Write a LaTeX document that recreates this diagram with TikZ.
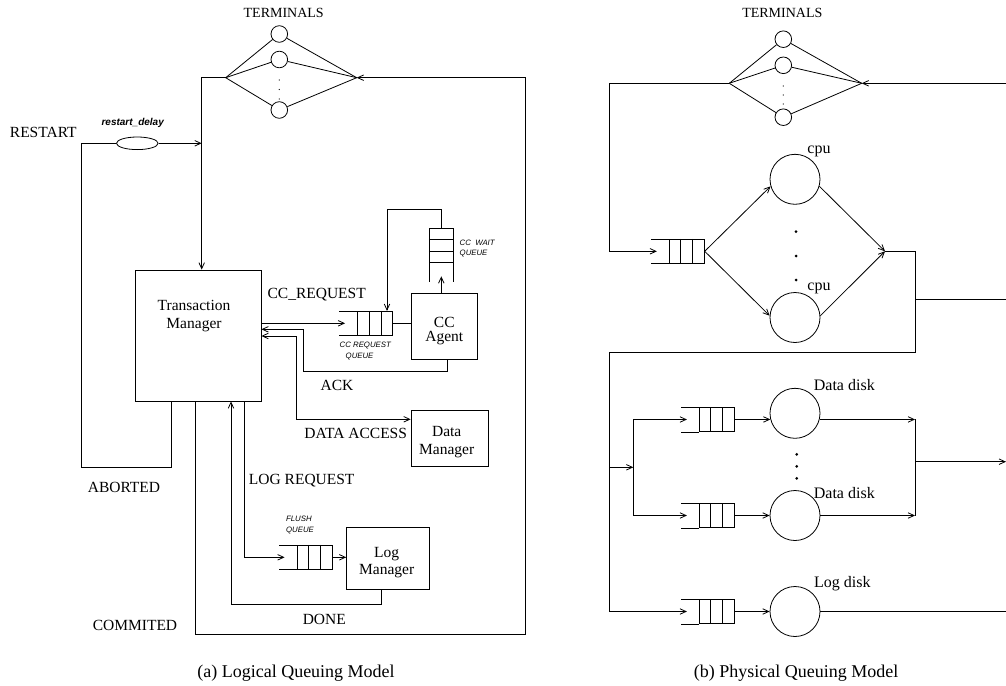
\documentclass[tikz,border=0pt]{standalone}
\usepackage{fontspec}
\setmainfont{Liberation Serif}
\setsansfont{Liberation Sans}
\usepackage{tikz}
\usetikzlibrary{arrows.meta,calc,shapes.geometric}

\tikzset{
  arr/.style={-{Straight Barb[length=6pt,width=5.5pt]}},
  darr/.style={{Straight Barb[length=6pt,width=5.5pt]}-{Straight Barb[length=6pt,width=5.5pt]}},
  box/.style={draw, rectangle, inner sep=0pt},
  term/.style={draw, circle, minimum size=16.6pt, inner sep=0pt},
  server/.style={draw, circle, minimum size=50pt, inner sep=0pt},
  qcell/.style={draw, rectangle, minimum width=35pt, minimum height=24pt, inner sep=0pt},
  lbl/.style={font=\fontsize{15.5}{17.5}\selectfont, align=center, inner sep=0pt},
  tiny/.style={font=\fontsize{7.8}{10.5}\selectfont\sffamily\itshape, align=left, inner sep=0pt},
}

% horizontal queue: closed part as node #1 at #2, open end to the left
\newcommand{\hqueue}[2]{%
  \node[qcell] (#1) at (#2) {};
  \draw (#1.north west) -- ++(-18,0) (#1.south west) -- ++(-18,0);
  \draw ($(#1.north west)!1/3!(#1.north east)$) -- ($(#1.south west)!1/3!(#1.south east)$)
        ($(#1.north west)!2/3!(#1.north east)$) -- ($(#1.south west)!2/3!(#1.south east)$);
}

\begin{document}
\begin{tikzpicture}[x=1pt, y=-1pt, line width=0.8pt]
\useasboundingbox (0,0) rectangle (1006,685);

% ================= (a) logical model =================
% terminals
\node[lbl, font=\fontsize{14}{16}\selectfont] (termA) at (283.7,13) {TERMINALS};
\node[term] (ta1) at (279.3,34) {};
\node[term] (ta2) at (279.3,59.5) {};
\node[term] (ta3) at (279.3,110) {};
\coordinate (forkA) at (225.7,77.7);
\coordinate (mergeA) at (356.7,77.7);
\foreach \t in {ta1,ta2,ta3} \draw (forkA) -- (\t) -- (mergeA);
\foreach \y in {80,89.5,99} \fill (279.3,\y) circle (0.6pt);

% transaction manager
\node[box, minimum width=126pt, minimum height=131pt] (tm) at (198,335.5) {};
\node[lbl] (tmtext) at (194,316) {Transaction\\Manager};
\coordinate (tmin) at (201.7,77.7);
\draw[arr] (forkA) -- (tmin) -- (tmin |- tm.north);

% restart loop
\node[lbl] (restart) at (43.3,132.3) {RESTART};
\node[draw, ellipse, minimum width=41.6pt, minimum height=12.6pt, inner sep=0pt] (delay) at (137.3,143.3) {};
\node[font=\fontsize{10}{12}\selectfont\sffamily\bfseries\itshape, inner sep=0pt] (delaytext) at (132.7,122.7) {restart\_delay};
\coordinate (abortB) at (171.7,467.3);
\coordinate (abortL) at (81,467.3);
\draw (abortB |- tm.south) -- (abortB) -- (abortL) |- (delay.west);
\draw[arr] (delay.east) -- (delay.east -| tmin);
\node[lbl] (aborted) at (124,487.3) {ABORTED};

% commit loop
\coordinate (comB) at (195.7,634.5);
\coordinate (comR) at (525,634.5);
\draw[arr] (comB |- tm.south) -- (comB) -- (comR) |- (mergeA);
\node[lbl] (commited) at (135,625) {COMMITED};

% concurrency control
\hqueue{qcc}{375,323.3}
\draw[arr] (tm.east |- qcc) -- ([xshift=-12pt]qcc.west);
\node[lbl] (ccreq) at (316.7,295) {CC\_REQUEST};
\node[tiny, anchor=west] (ccreqq) at (339.3,350.8) {CC REQUEST\\\hspace*{6pt}QUEUE};
\node[box, minimum width=66pt, minimum height=66pt] (cca) at (444.7,326.3) {};
\node[lbl] (ccatext) at (444.3,331) {CC\\[-3pt]Agent};
\draw (qcc.east) -- (qcc.east -| cca.west);

\node[qcell, minimum width=24pt, minimum height=34.4pt] (qwait) at (441.3,245.5) {};
\draw (qwait.south west) -- ++(0,19) (qwait.south east) -- ++(0,19);
\draw ($(qwait.north west)!1/3!(qwait.south west)$) -- ($(qwait.north east)!1/3!(qwait.south east)$)
      ($(qwait.north west)!2/3!(qwait.south west)$) -- ($(qwait.north east)!2/3!(qwait.south east)$);
\node[tiny, anchor=west] (ccwaitq) at (459.3,248.6) {CC\ \ WAIT\\QUEUE};
\draw[arr] (qwait |- cca.north) -- ++(0,-16.6);
\coordinate (fb) at (387,209.3);
\draw[arr] (qwait.north) -- (qwait.north |- fb) -- (fb) -- (fb |- qcc.north);

% ack
\coordinate (ackT) at (303.3,329.3);
\coordinate (ackB) at (303.3,371.5);
\coordinate (ackR) at (447.3,371.5);
\draw[arr] (ackR |- cca.south) -- (ackR) -- (ackB) -- (ackT) -- (ackT -| tm.east);
\node[lbl] (ack) at (337,385.5) {ACK};

% data access
\node[box, minimum width=77.3pt, minimum height=56.7pt] (dm) at (449.7,438.3) {};
\node[lbl] (dmtext) at (446.7,442) {Data\\Manager};
\coordinate (daT) at (296.7,336);
\coordinate (daB) at (296.7,419.3);
\draw[darr] (daT -| tm.east) -- (daT) -- (daB) -- (daB -| dm.west);
\node[lbl] (dacc) at (355.7,433.3) {DATA ACCESS};

% logging
\node[lbl] (logreq) at (301.7,481) {LOG REQUEST};
\hqueue{qfl}{314.5,557.3}
\node[tiny, anchor=west] (flushq) at (285.7,524.8) {FLUSH\\QUEUE};
\coordinate (lrB) at (244,557.3);
\draw[arr] (lrB |- tm.south) -- (lrB) -- ([xshift=-12pt]qfl.west);
\node[box, minimum width=82.3pt, minimum height=61.6pt] (lm) at (387.8,558.5) {};
\node[lbl] (lmtext) at (386.7,562.5) {Log\\Manager};
\draw[arr] (qfl.east) -- (qfl.east -| lm.west);
\coordinate (dnR) at (381,604.3);
\coordinate (dnL) at (231,604.3);
\draw[arr] (dnR |- lm.south) -- (dnR) -- (dnL) -- (dnL |- tm.south);
\node[lbl] (done) at (324.3,619.3) {DONE};

% ================= (b) physical model =================
\node[lbl, font=\fontsize{14}{16}\selectfont] (termB) at (782.3,13.3) {TERMINALS};
\node[term] (tb1) at (783.3,39.2) {};
\node[term] (tb2) at (783.3,65.3) {};
\node[term] (tb3) at (783.3,117.2) {};
\coordinate (forkB) at (729.3,83.3);
\coordinate (mergeB) at (861.7,83.3);
\foreach \t in {tb1,tb2,tb3} \draw (forkB) -- (\t) -- (mergeB);
\foreach \y in {86,95,104} \fill (783.3,\y) circle (0.6pt);
\coordinate (inB) at (1006,83.3);
\draw[arr] (inB) -- (mergeB);

% cpus
\hqueue{qcpu}{686.8,251.3}
\coordinate (loopB) at (609.3,83.3);
\draw[arr] (forkB) -- (loopB) |- ([xshift=-12pt]qcpu.west);
\node[server] (cpu1) at (795,179.3) {};
\node[server] (cpu2) at (795,317.5) {};
\node[lbl, font=\fontsize{16}{18}\selectfont] (cpu1l) at (819,151) {cpu};
\node[lbl, font=\fontsize{16}{18}\selectfont] (cpu2l) at (819,288.7) {cpu};
\foreach \y in {231.7,256,280} \fill (796,\y) circle (1.5pt);
\coordinate (cpumerge) at (885,251.3);
\draw[arr] (qcpu.east) -- (cpu1.196);
\draw[arr] (qcpu.east) -- (cpu2.176);
\draw[arr] (cpu1.344) -- (cpumerge);
\draw[arr] (cpu2.4) -- (cpumerge);

% disks
\hqueue{qd1}{716.8,419.5}
\hqueue{qd2}{716.8,515.5}
\hqueue{qlog}{716.8,611.5}
\coordinate (cpuR) at (915,251.3);
\coordinate (cpuD) at (915,352.7);
\coordinate (diskL) at (609.3,352.7);
\coordinate (outB) at (1006,299.3);
\draw[arr] (cpumerge) -- (cpuR) -- (cpuD) -- (diskL) |- ([xshift=-12pt]qlog.west);
\draw (outB -| cpuR) -- (outB);

\coordinate (ddsplit) at (633.3,467.3);
\draw[arr] (diskL |- ddsplit) -- (ddsplit);
\draw[arr] (ddsplit) -- (ddsplit |- qd1) -- ([xshift=-12pt]qd1.west);
\draw[arr] (ddsplit) -- (ddsplit |- qd2) -- ([xshift=-12pt]qd2.west);

\node[server] (dd1) at (795,413.3) {};
\node[server] (dd2) at (795,515.5) {};
\node[server] (ld) at (795,611.5) {};
\node[lbl, font=\fontsize{16}{18}\selectfont] (dd1l) at (844.3,385) {Data disk};
\node[lbl, font=\fontsize{16}{18}\selectfont] (dd2l) at (844.3,492.7) {Data disk};
\node[lbl, font=\fontsize{16}{18}\selectfont] (ldl) at (842.3,583.3) {Log disk};
\foreach \y in {454.3,466.3,478.3} \fill (796.7,\y) circle (1.5pt);
\draw[arr] (qd1.east) -- (dd1.194);
\draw[arr] (qd2.east) -- (dd2.west);
\draw[arr] (qlog.east) -- (ld.west);

\coordinate (djoin) at (915,461.7);
\coordinate (outD) at (1006,461.7);
\draw[arr] (dd1.346) -- (dd1.346 -| djoin);
\draw[arr] (dd2.east) -- (dd2.east -| djoin);
\draw (dd1.346 -| djoin) -- (dd2.east -| djoin);
\draw[arr] (djoin) -- (outD);
\draw (ld.east) -- (ld.east -| outD);

% captions
\node[font=\fontsize{18}{20}\selectfont, anchor=base, inner sep=0pt] (capa) at (296,677) {(a) Logical Queuing Model};
\node[font=\fontsize{18}{20}\selectfont, anchor=base, inner sep=0pt] (capb) at (796,677) {(b) Physical Queuing Model};
\end{tikzpicture}
\end{document}
